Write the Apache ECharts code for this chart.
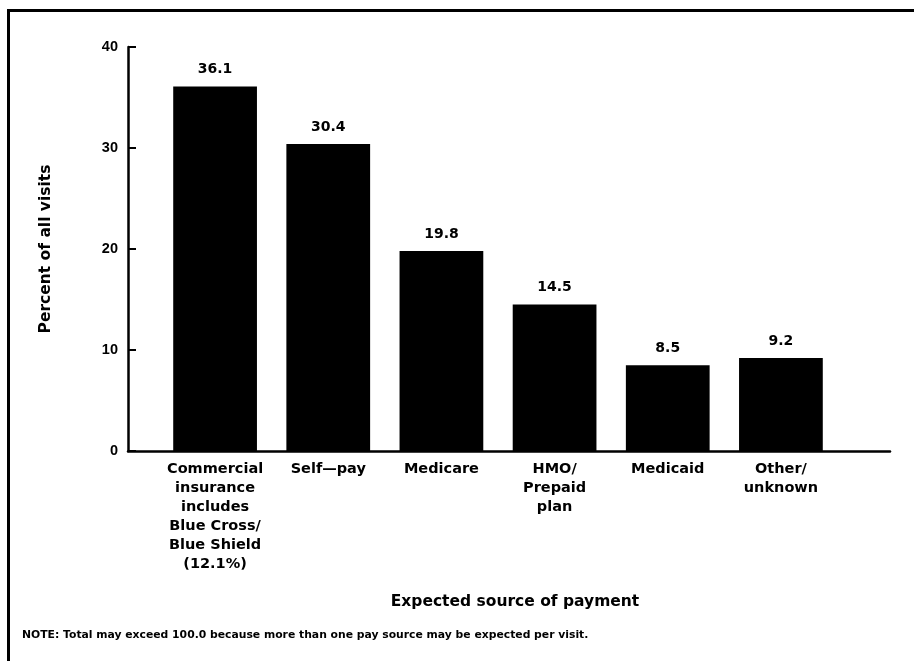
<!DOCTYPE html>
<html>
<head>
<meta charset="utf-8">
<script src="https://cdn.jsdelivr.net/npm/echarts@6/dist/echarts.min.js"></script>
<style>
html,body{margin:0;padding:0;background:#fff;}
#chart{width:914px;height:661px;}
</style>
</head>
<body>
<div id="chart"></div>
<script>
const categories = [
  'Commercial\ninsurance\nincludes\nBlue Cross/\nBlue Shield\n(12.1%)',
  'Self\u2014pay',
  'Medicare',
  'HMO/\nPrepaid\nplan',
  'Medicaid',
  'Other/\nunknown'
];
const values = [36.1, 30.4, 19.8, 14.5, 8.5, 9.2];
const yMin = 0, yMax = 40, yStep = 10;
const yTitle = 'Percent of all visits';
const xTitle = 'Expected source of payment';
const note = 'NOTE: Total may exceed 100.0 because more than one pay source may be expected per visit.';

const FONT = '"DejaVu Sans", "Liberation Sans", Arial, sans-serif';
const NUMFONT = '"Liberation Sans", Arial, sans-serif';
const chart = echarts.init(document.getElementById('chart'), null, {renderer: 'canvas'});
chart.setOption({
  backgroundColor: '#ffffff',
  animation: false,
  textStyle: {fontFamily: FONT, color: '#000'},
  grid: [
    {left: 128, right: 24, top: 47, bottom: 210},
    {left: 158.5, width: 679, top: 47, bottom: 210}
  ],
  xAxis: [
    {
      gridIndex: 0, type: 'category', data: categories,
      axisLine: {show: true, lineStyle: {color: '#000', width: 2.5}},
      axisTick: {show: false}, axisLabel: {show: false},
      name: xTitle, nameLocation: 'middle', nameGap: 143,
      nameTextStyle: {color: '#000', fontFamily: FONT, fontSize: 15.5, fontWeight: 'bold', padding: [0, 0, 0, 12]}
    },
    {
      gridIndex: 1, type: 'category', data: categories,
      axisLine: {show: false}, axisTick: {show: false},
      axisLabel: {
        interval: 0, margin: 9, color: '#000', fontFamily: FONT,
        fontSize: 14.5, fontWeight: 'bold', lineHeight: 19
      }
    }
  ],
  yAxis: [
    {
      gridIndex: 0, type: 'value', min: yMin, max: yMax, interval: yStep,
      axisLine: {show: true, lineStyle: {color: '#000', width: 2.5}},
      axisTick: {show: true, inside: true, length: 8, lineStyle: {color: '#000', width: 2}},
      axisLabel: {color: '#000', fontFamily: NUMFONT, fontSize: 14.5, fontWeight: 'bold', margin: 10},
      splitLine: {show: false},
      name: yTitle, nameLocation: 'middle', nameRotate: 90, nameGap: 74,
      nameTextStyle: {color: '#000', fontFamily: FONT, fontSize: 15.5, fontWeight: 'bold'}
    },
    {
      gridIndex: 1, type: 'value', min: yMin, max: yMax, interval: yStep, show: false
    }
  ],
  series: [{
    type: 'bar', xAxisIndex: 1, yAxisIndex: 1, data: values,
    barWidth: '74%',
    itemStyle: {color: '#000'},
    label: {
      show: true, position: 'top', distance: 10, color: '#000',
      fontFamily: FONT, fontSize: 14, fontWeight: 'bold',
      formatter: p => p.value.toFixed(1)
    }
  }],
  graphic: [
    {type: 'rect', left: 7, top: 9, shape: {width: 907, height: 3}, style: {fill: '#000'}},
    {type: 'rect', left: 7, top: 9, shape: {width: 3, height: 652}, style: {fill: '#000'}},
    {type: 'text', left: 22, top: 630, style: {text: note, fill: '#000', font: 'bold 10.8px ' + FONT}}
  ]
});
</script>
</body>
</html>
